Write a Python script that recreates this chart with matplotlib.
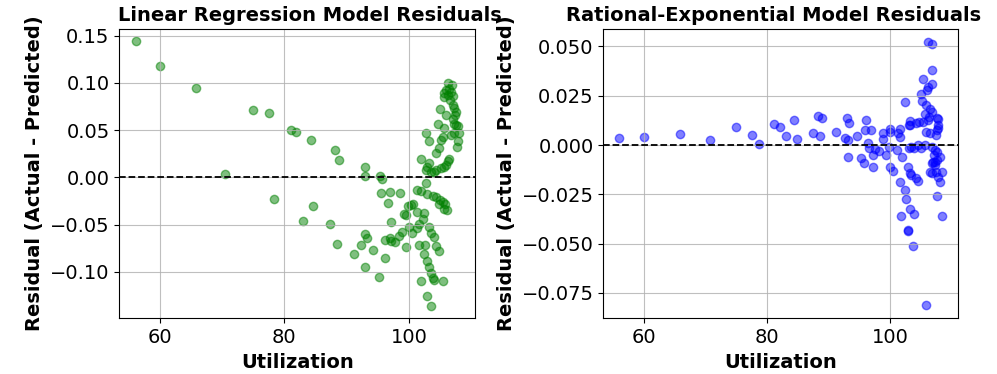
import matplotlib
matplotlib.use("Agg")
import matplotlib.pyplot as plt
from matplotlib.ticker import MultipleLocator

# linear regression residuals
util_lin = [56.1, 60.0, 65.8, 70.5, 75.0, 77.6, 78.4, 81.0, 81.9, 83.0, 84.2, 84.6,
            87.4, 88.2, 88.8, 88.4, 91.1, 92.3, 92.9, 92.9, 95.4, 95.7, 95.5, 96.9,
            98.5, 96.6, 99.8, 99.2, 99.5, 97.1, 100.0, 92.9, 93.2, 94.3, 96.1, 97.0,
            97.1, 97.8, 98.4, 98.9, 99.6, 96.2, 93.0, 95.2,
            100.7, 100.4, 101.3, 102.4, 102.3, 101.6, 100.5, 101.3, 103.2, 103.5, 104.0,
            101.6, 102.5, 104.3, 104.8, 102.4, 102.9, 103.2, 103.5, 103.8, 102.0, 104.0,
            105.4, 102.9, 103.5, 101.3, 101.9, 102.9, 103.8, 104.4, 105.0, 104.8, 105.4,
            105.8, 105.6, 106.1, 102.7,
            106.2, 106.9, 105.7, 106.2, 106.7, 105.9, 106.5, 107.0, 105.6, 106.6, 105.0,
            107.0, 107.2, 107.5, 107.4, 107.1, 105.9, 104.7, 105.6, 107.2, 107.5, 107.8,
            108.0, 107.2, 106.7, 102.8, 103.2, 105.4, 105.1, 107.8, 107.7, 104.8, 104.4,
            101.9, 103.2, 102.9, 102.7, 103.5, 106.5, 106.2, 105.9, 105.6, 105.1, 104.4,
            104.0]
res_lin = [0.144, 0.118, 0.095, 0.004, 0.071, 0.068, -0.023, 0.050, 0.048, -0.046, 0.040, -0.030,
           -0.049, 0.029, 0.018, -0.070, -0.081, -0.072, 0.011, 0.002, 0.001, -0.002, -0.016, -0.015,
           -0.016, -0.027, -0.030, -0.039, -0.040, -0.047, -0.052, -0.060, -0.064, -0.077, -0.066, -0.064,
           -0.067, -0.068, -0.062, -0.058, -0.074, -0.085, -0.095, -0.105,
           -0.028, -0.029, -0.037, -0.038, -0.044, -0.049, -0.059, -0.054, -0.052, -0.059, -0.063,
           -0.071, -0.072, -0.073, -0.078, -0.081, -0.088, -0.095, -0.101, -0.106, -0.110, -0.109,
           -0.110, -0.125, -0.136, -0.013, -0.014, -0.018, -0.020, -0.021, -0.024, -0.028, -0.026,
           -0.028, -0.033, -0.035, -0.006,
           0.100, 0.098, 0.089, 0.087, 0.090, 0.092, 0.094, 0.086, 0.085, 0.082, 0.072,
           0.077, 0.073, 0.069, 0.066, 0.062, 0.066, 0.056, 0.052, 0.057, 0.055, 0.054,
           0.047, 0.047, 0.045, 0.047, 0.038, 0.043, 0.040, 0.038, 0.032, 0.031, 0.026,
           0.020, 0.015, 0.011, 0.008, 0.006, 0.019, 0.017, 0.013, 0.011, 0.010, 0.008,
           0.006]

# rational-exponential residuals
util_rat = [56.0, 60.0, 65.8, 70.7, 75.0, 77.6, 78.6, 81.1, 82.0, 83.0, 84.3, 84.8,
            87.4, 88.2, 88.9, 88.5, 91.2, 92.6, 93.1, 93.0, 93.1, 93.3,
            94.6, 95.8, 96.9, 96.4, 96.6, 97.5, 98.2, 95.3, 95.7, 97.2, 97.2, 99.2,
            98.8, 98.8, 99.8, 100.0, 99.9, 100.4, 101.0, 101.2, 101.6, 101.8, 101.5,
            102.3, 102.9, 103.1, 103.4, 104.1, 104.5, 103.0, 103.4, 103.9, 104.5, 105.0,
            103.1, 104.2, 105.3, 105.8, 106.4, 106.7, 107.2, 106.9, 107.5, 107.2, 106.5,
            107.7, 108.0, 108.4, 107.6, 102.5, 107.5, 107.7, 107.4,
            106.1, 106.8, 106.7, 105.3, 106.7, 106.1, 105.9, 104.9, 102.3, 105.2, 105.7,
            106.4, 106.7, 105.6, 106.3, 103.1, 103.0, 104.6, 106.1, 107.7, 96.0, 99.9, 101.5,
            103.2, 103.8, 101.7, 108.3, 102.8, 102.9, 103.7, 105.7,
            106.7, 107.2, 107.1, 108.0, 107.6, 106.7, 107.4, 107.6, 107.8, 105.6]
res_rat = [0.0037, 0.0040, 0.0057, 0.0025, 0.0094, 0.0049, 0.0007, 0.0106, 0.0091, 0.0045, 0.0125, 0.0030,
           0.0060, 0.0145, 0.0136, 0.0045, 0.0066, 0.0034, 0.0025, 0.0135, -0.0060, 0.0110,
           0.0045, 0.0076, 0.0076, 0.0012, -0.0017, -0.0022, -0.0029, -0.0067, -0.0089, -0.0051, -0.0110, -0.0051,
           0.0059, 0.0029, -0.0009, 0.0067, -0.0110, -0.0130, -0.0025, 0.0059, 0.0042, -0.0059, -0.0185,
           -0.0227, -0.0110, -0.0143, -0.0152, -0.0168, -0.0180, -0.0017, -0.0009, -0.0017, 0.0000, -0.0017,
           0.0100, 0.0110, 0.0118, 0.0067, 0.0059, -0.0009, -0.0025, -0.0084, -0.0076, -0.0101, -0.0135,
           -0.0160, -0.0185, -0.0135, -0.0260, -0.0275, 0.0076, 0.0101, 0.0050,
           0.0522, 0.0514, 0.0382, 0.0337, 0.0312, 0.0294, 0.0281, 0.0258, 0.0219, 0.0224, 0.0202,
           0.0185, 0.0168, 0.0160, 0.0143, 0.0123, 0.0101, 0.0118, 0.0126, 0.0130, 0.0126, 0.0080, 0.0080,
           -0.0325, -0.0348, -0.0362, -0.0359, -0.0430, -0.0436, -0.0510, -0.0812,
           -0.0093, -0.0084, -0.0050, -0.0059, -0.0034, -0.0143, -0.0135, 0.0135, 0.0084, 0.0000]

fig = plt.figure(figsize=(9.97, 3.74), dpi=100)
ax1 = fig.add_axes([0.1197, 0.149, 0.3567, 0.7735])
ax2 = fig.add_axes([0.6051, 0.149, 0.3561, 0.7735])

panels = [
    (ax1, util_lin, res_lin, 'green', 'Linear Regression Model Residuals', 0.536),
    (ax2, util_rat, res_rat, 'blue', 'Rational-Exponential Model Residuals', 0.48),
]
for ax, xs, ys, col, title, tx in panels:
    ax.scatter(xs, ys, color=col, alpha=0.5, s=36)
    ax.axhline(0, color='black', linestyle='--', linewidth=1.3)
    ax.set_title(title, fontsize=14, fontweight='bold', x=tx)
    ax.set_xlabel('Utilization', fontsize=14, fontweight='bold')
    ax.set_ylabel('Residual (Actual - Predicted)', fontsize=14, fontweight='bold')
    ax.tick_params(labelsize=14)
    ax.xaxis.set_major_locator(MultipleLocator(20))
    ax.grid(True, alpha=0.8)

ax1.set_ylim(-0.149, 0.157)
ax1.yaxis.set_major_locator(MultipleLocator(0.05))

fig.savefig('out.png', dpi=100)
